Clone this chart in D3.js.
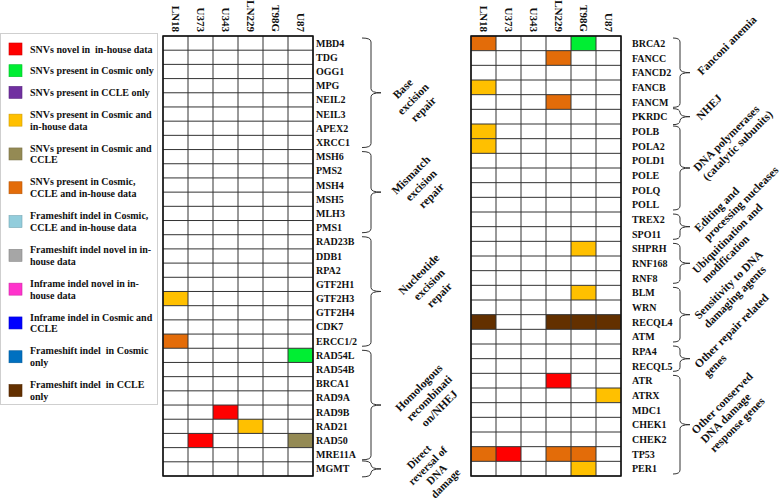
<!DOCTYPE html>
<html><head><meta charset="utf-8">
<script src="https://cdn.jsdelivr.net/npm/d3@7"></script>
<style>
body{margin:0;background:#fff}
svg{display:block}
text{font-family:"Liberation Serif","Times New Roman",serif;font-weight:bold;fill:#111;white-space:pre}
</style>
</head><body><svg id="c" width="782" height="500"></svg>
<script>
// ---------------- DATA ----------------
const cellLines = ["LN18","U373","U343","LN229","T98G","U87"];

const leftGenes = ["MBD4","TDG","OGG1","MPG","NEIL2","NEIL3","APEX2","XRCC1",
  "MSH6","PMS2","MSH4","MSH5","MLH3","PMS1",
  "RAD23B","DDB1","RPA2","GTF2H1","GTF2H3","GTF2H4","CDK7","ERCC1/2",
  "RAD54L","RAD54B","BRCA1","RAD9A","RAD9B","RAD21","RAD50","MRE11A","MGMT"];

const rightGenes = ["BRCA2","FANCC","FANCD2","FANCB","FANCM","PKRDC",
  "POLB","POLA2","POLD1","POLE","POLQ","POLL","TREX2","SPO11",
  "SHPRH","RNF168","RNF8","BLM","WRN","RECQL4","ATM","RPA4","RECQL5",
  "ATR","ATRX","MDC1","CHEK1","CHEK2","TP53","PER1"];

const categories = [
  ["SNVs novel in  in-house data"],
  ["SNVs present in Cosmic only"],
  ["SNVs present in CCLE only"],
  ["SNVs present in Cosmic and","in-house data"],
  ["SNVs present in Cosmic and","CCLE"],
  ["SNVs present in Cosmic,","CCLE and in-house data"],
  ["Frameshift indel in Cosmic,","CCLE and in-house data"],
  ["Frameshift indel novel in in-","house data"],
  ["Inframe indel novel in in-","house data"],
  ["Inframe indel in Cosmic and","CCLE"],
  ["Frameshift indel  in Cosmic","only"],
  ["Frameshift indel  in CCLE","only"]
];
const categoryColors = ["#ff0000","#00ee33","#7030a0","#ffc000","#948a54","#e36c09",
  "#92cddc","#a6a6a6","#ff33cc","#0000ff","#0070c0","#633000"];

// [gene, cell line, category index]
const leftMutations = [
  ["GTF2H3","LN18",3],["ERCC1/2","LN18",5],["RAD54L","U87",1],
  ["RAD9B","U343",0],["RAD21","LN229",3],["RAD50","U373",0],["RAD50","U87",4]
];
const rightMutations = [
  ["BRCA2","LN18",5],["BRCA2","T98G",1],["FANCC","LN229",5],["FANCB","LN18",3],
  ["FANCM","LN229",5],["POLB","LN18",3],["POLA2","LN18",3],["SHPRH","T98G",3],
  ["BLM","T98G",3],["RECQL4","LN18",11],["RECQL4","LN229",11],["RECQL4","T98G",11],
  ["RECQL4","U87",11],["ATR","LN229",0],["ATRX","U87",3],["TP53","LN18",5],
  ["TP53","U373",0],["TP53","LN229",5],["TP53","T98G",5],["PER1","T98G",3]
];

const leftGroups = [
  {lines:["Base","excision","repair"], from:"MBD4", to:"XRCC1"},
  {lines:["Mismatch","excision","repair"], from:"MSH6", to:"PMS1"},
  {lines:["Nucleotide","excision","repair"], from:"RAD23B", to:"ERCC1/2"},
  {lines:["Homologous","recombinati","on/NHEJ"], from:"RAD54L", to:"MRE11A"},
  {lines:["Direct","reversal of","DNA","damage"], from:"MGMT", to:"MGMT"}
];
const rightGroups = [
  {lines:["Fanconi anemia"], from:"BRCA2", to:"FANCM"},
  {lines:["NHEJ"], from:"PKRDC", to:"PKRDC"},
  {lines:["DNA polymerases","(catalytic subunits)"], from:"POLB", to:"POLL"},
  {lines:["Editing and","processing nucleases"], from:"TREX2", to:"SPO11"},
  {lines:["Ubiquitination and","modification"], from:"SHPRH", to:"RNF8"},
  {lines:["Sensitivity to DNA","damaging agents"], from:"BLM", to:"ATM"},
  {lines:["Other repair related","genes"], from:"RPA4", to:"RECQL5"},
  {lines:["Other conserved","DNA damage","response genes"], from:"ATR", to:"PER1"}
];

// ---------------- LAYOUT (style only) ----------------
const leftLabelOffsets = [[32,6],[40,-7],[48,-7],[48,-7],[51,1]];
const rightLabelOffsets = [[12,3],[11,4],[8,4],[9,6],[7,11],[9,5],[9,10],[6,10]];

const svg = d3.select("#c");

// ---------------- LEGEND ----------------
const lg = svg.append("g");
lg.append("rect").attr("x",0.5).attr("y",33.5).attr("width",157).attr("height",371)
  .attr("fill","#fff").attr("stroke","#cfcfcf").attr("stroke-width",1);
let cy = 49, prevH = null;
categories.forEach((lines,i)=>{
  const h = lines.length>1 ? 33.8 : 21.7;
  if (prevH!==null) cy += (prevH+h)/2;
  prevH = h;
  lg.append("rect").attr("x",9).attr("y",cy-6).attr("width",13).attr("height",12)
    .attr("fill",categoryColors[i]).attr("stroke",d3.color(categoryColors[i]).darker(0.6)).attr("stroke-width",0.6);
  lines.forEach((t,j)=>{
    lg.append("text").attr("x",30).attr("y",cy + (j-(lines.length-1)/2)*11.8)
      .attr("dominant-baseline","central").attr("font-size",10).text(t);
  });
});

// ---------------- PANELS ----------------
function panel(x0, genes, mutations, groups, labelX, br, side, offsets){
  const g = svg.append("g");
  const x = d3.scaleBand().domain(cellLines).range([x0, x0+150]);
  const y = d3.scaleBand().domain(genes).range([36, 476]);
  const mut = new Map(mutations.map(m=>[m[0]+"|"+m[1], m[2]]));
  const cells = [];
  genes.forEach(gn=>cellLines.forEach(cl=>cells.push({gn,cl,c:mut.get(gn+"|"+cl)})));
  g.selectAll("rect.cell").data(cells).join("rect").attr("class","cell")
    .attr("x",d=>x(d.cl)).attr("y",d=>y(d.gn)).attr("width",x.bandwidth()).attr("height",y.bandwidth())
    .attr("fill",d=>d.c===undefined?"#fff":categoryColors[d.c]);
  const xs = cellLines.map(c=>x(c)).concat([x0+150]);
  const ys = genes.map(gn=>y(gn)).concat([476]);
  g.selectAll("line.v").data(xs).join("line").attr("x1",d=>d).attr("x2",d=>d)
    .attr("y1",36).attr("y2",476).attr("stroke","#333").attr("stroke-width",1);
  g.selectAll("line.h").data(ys).join("line").attr("y1",d=>d).attr("y2",d=>d)
    .attr("x1",x0).attr("x2",x0+150).attr("stroke","#333").attr("stroke-width",1);
  g.append("rect").attr("x",x0).attr("y",36).attr("width",150).attr("height",440)
    .attr("fill","none").attr("stroke","#111").attr("stroke-width",1.5);
  cellLines.forEach(cl=>{
    g.append("text").attr("transform",`translate(${x(cl)+x.bandwidth()/2},32) rotate(90)`)
      .attr("text-anchor","end").attr("dominant-baseline","central").attr("font-size",11).text(cl);
  });
  g.selectAll("text.gene").data(genes).join("text").attr("class","gene")
    .attr("x",labelX).attr("y",d=>y(d)+y.bandwidth()/2).attr("dominant-baseline","central")
    .attr("font-size",10).text(d=>d);
  groups.forEach((grp,i)=>{
    let y1 = y(grp.from)+2, y2 = y(grp.to)+y.bandwidth()-2;
    if (y2-y1<16){ const m=(y1+y2)/2; y1=m-8; y2=m+8; }
    const ym=(y1+y2)/2, r=4;
    const {x0:bx0, xv, xt} = br;
    const p = `M${bx0},${y1} Q${xv},${y1} ${xv},${y1+r} L${xv},${ym-r} Q${xv},${ym} ${xt},${ym} Q${xv},${ym} ${xv},${ym+r} L${xv},${y2-r} Q${xv},${y2} ${bx0},${y2}`;
    g.append("path").attr("d",p).attr("fill","none").attr("stroke","#333").attr("stroke-width",1);
    const [dx,dy] = offsets[i];
    const n = grp.lines.length;
    const lgp = g.append("g").attr("transform",`translate(${xt+dx},${ym+dy}) rotate(-45)`);
    if (side==="left"){
      const lh = n>3 ? 12.5 : 14.5;
      const fs = n>3 ? 11 : 11.5;
      grp.lines.forEach((t,j)=>{
        lgp.append("text").attr("x",0).attr("y",(j-(n-1)/2)*lh)
          .attr("text-anchor","middle").attr("dominant-baseline","central").attr("font-size",fs).text(t);
      });
    } else {
      grp.lines.forEach((t,j)=>{
        lgp.append("text").attr("x",0).attr("y",j*13)
          .attr("text-anchor","start").attr("font-size",11.5).text(t);
      });
    }
  });
}

panel(163, leftGenes, leftMutations, leftGroups, 316, {x0:362,xv:371,xt:381}, "left", leftLabelOffsets);
panel(471, rightGenes, rightMutations, rightGroups, 632, {x0:673,xv:680,xt:690}, "right", rightLabelOffsets);
</script>
</body></html>
